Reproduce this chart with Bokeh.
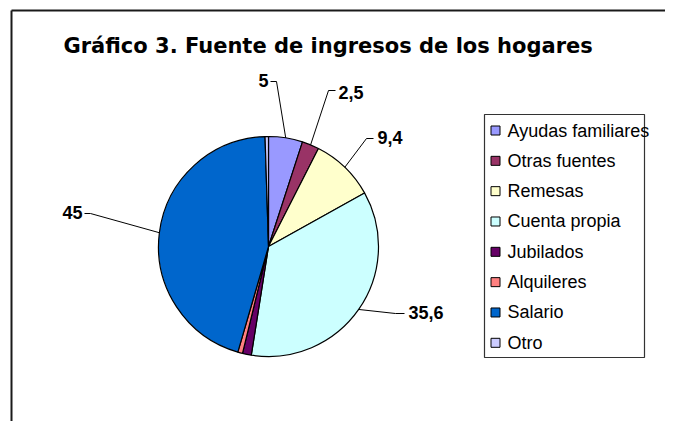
import numpy as np
from bokeh.plotting import figure
from bokeh.models import Range1d
from bokeh.core.properties import value
from bokeh.embed import file_html
from bokeh.resources import INLINE

# ---- data ----
categories = ["Ayudas familiares", "Otras fuentes", "Remesas", "Cuenta propia",
              "Jubilados", "Alquileres", "Salario", "Otro"]
values = [5.0, 2.5, 9.4, 35.6, 1.3, 0.7, 45.0, 0.5]
colors = ["#9999FF", "#993366", "#FFFFCC", "#CCFFFF",
          "#660066", "#FF8080", "#0066CC", "#CCCCFF"]
labeled = [0, 1, 2, 3, 6]
title_text = "Gráfico 3. Fuente de ingresos de los hogares"

# ---- layout (page pixel coordinates) ----
W, H = 665, 421
OFF = 0  # figure's top-left position on the page


def Y(py):
    return H + OFF - py


cx, cy, R = 268, 246, 110
# text anchor (page px), alignment, elbow point, end of horizontal tick
label_layout = {
    0: dict(tx=268, ty=80, align="right", elbow=(276, 81), tick=(270, 81)),
    1: dict(tx=338, ty=92, align="left", elbow=(328, 90), tick=(335, 90)),
    2: dict(tx=377, ty=137, align="left", elbow=(366, 138), tick=(373, 138)),
    3: dict(tx=408, ty=312, align="left", elbow=(395, 313), tick=(404, 313)),
    6: dict(tx=82, ty=212, align="right", elbow=(90, 213), tick=(84, 213)),
}

p = figure(width=W, height=H, output_backend="svg", toolbar_location=None,
           x_range=Range1d(OFF, OFF + W), y_range=Range1d(Y(OFF + H), Y(OFF)),
           min_border=0, outline_line_color=None)
p.axis.visible = False
p.grid.visible = False
p.background_fill_color = "white"
p.border_fill_color = "white"

# chart area border (extends beyond the window on right / bottom)
p.line([11, 11], [Y(10), Y(460)], line_color="#1a1a1a", line_width=2)
p.line([11, 700], [Y(10), Y(10)], line_color="#1a1a1a", line_width=2)

# ---- pie ----
vals = np.array(values, dtype=float)
frac = vals / vals.sum()
cum_end = np.cumsum(frac)
cum_start = cum_end - frac
start_angle = np.pi / 2 - 2 * np.pi * cum_end
end_angle = np.pi / 2 - 2 * np.pi * cum_start
p.wedge(x=cx, y=Y(cy), radius=R, start_angle=start_angle, end_angle=end_angle,
        direction="anticlock", fill_color=colors, line_color="black",
        line_width=1.2)

# ---- data labels with leader lines ----
mid = 2 * np.pi * (cum_start + frac / 2)  # clockwise from 12 o'clock
for i in labeled:
    L = label_layout[i]
    ax = cx + R * np.sin(mid[i])
    ay = cy - R * np.cos(mid[i])
    ex, ey = L["elbow"]
    hx, hy = L["tick"]
    p.line([ax, ex, hx], [Y(ay), Y(ey), Y(hy)], line_color="black", line_width=1)
    txt = ("%g" % values[i]).replace(".", ",")
    p.text(x=[L["tx"]], y=[Y(L["ty"])], text=[txt], text_align=L["align"],
           text_baseline="middle", text_font=value("Liberation Sans"),
           text_font_style="bold", text_font_size="18px", text_color="black")

# ---- title ----
p.text(x=[63], y=[Y(45)], text=[title_text], text_align="left",
       text_baseline="alphabetic", text_font=value("DejaVu Sans"),
       text_font_style="bold", text_font_size="21px", text_color="black")

# ---- legend ----
p.quad(left=484, right=644, top=Y(114), bottom=Y(357), fill_color="white",
       line_color="#333333", line_width=1.2)
ly = 130 + 30.33 * np.arange(len(categories))
p.scatter(x=[495] * len(categories), y=[Y(v) for v in ly], marker="square",
          size=9, fill_color=colors, line_color="black", line_width=1)
p.text(x=[507] * len(categories), y=[Y(v) for v in ly], text=categories,
       text_align="left", text_baseline="middle",
       text_font=value("Liberation Sans"), text_font_size="18px",
       text_color="black")

open("out.html", "w").write(file_html(p, INLINE))
